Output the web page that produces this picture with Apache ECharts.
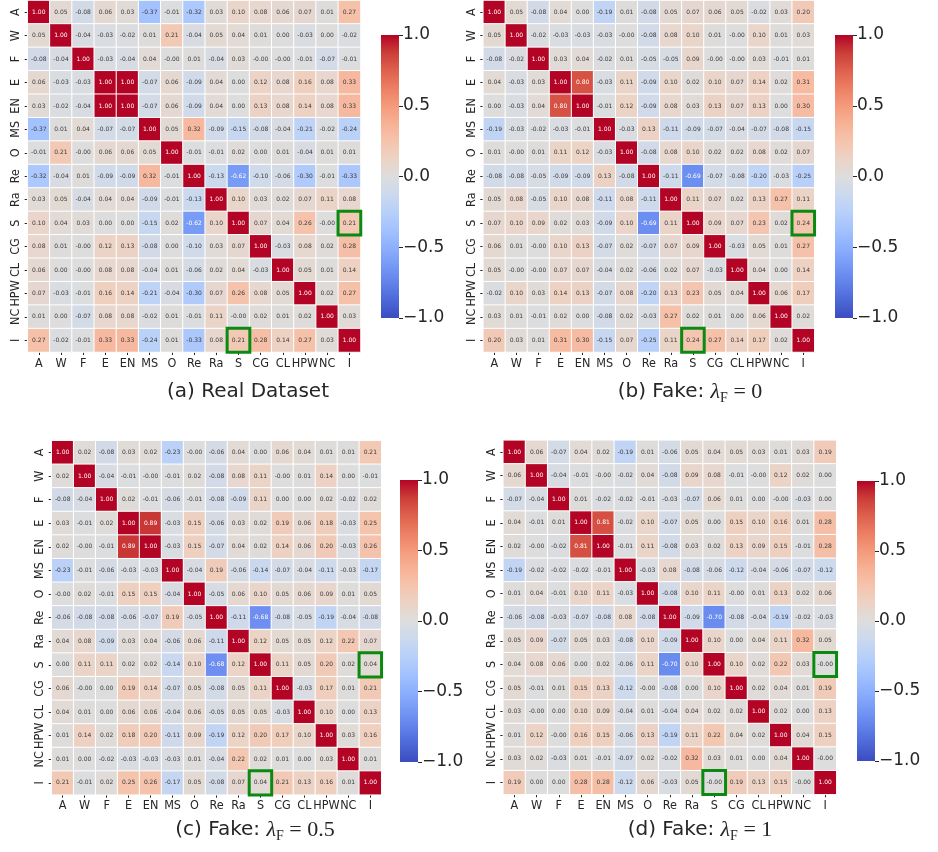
<!DOCTYPE html>
<html>
<head>
<meta charset="utf-8">
<script src="https://cdn.jsdelivr.net/npm/echarts@6/dist/echarts.min.js"></script>
<style>
  html, body { margin: 0; padding: 0; background: #ffffff; }
  #chart { width: 938px; height: 852px; }
</style>
</head>
<body>
<div id="chart"></div>
<script>
// Feature names (rows top-to-bottom, columns left-to-right)
const features = ['A', 'W', 'F', 'E', 'EN', 'MS', 'O', 'Re', 'Ra', 'S', 'CG', 'CL', 'HPW', 'NC', 'I'];

// -0.001 stands for a correlation printed as "-0.00"
const realDataset = [
  [1.00, 0.05, -0.08, 0.06, 0.03, -0.37, -0.01, -0.32, 0.03, 0.10, 0.08, 0.06, 0.07, 0.01, 0.27],
  [0.05, 1.00, -0.04, -0.03, -0.02, 0.01, 0.21, -0.04, 0.05, 0.04, 0.01, 0.00, -0.03, 0.00, -0.02],
  [-0.08, -0.04, 1.00, -0.03, -0.04, 0.04, -0.001, 0.01, -0.04, 0.03, -0.001, -0.001, -0.01, -0.07, -0.01],
  [0.06, -0.03, -0.03, 1.00, 1.00, -0.07, 0.06, -0.09, 0.04, 0.00, 0.12, 0.08, 0.16, 0.08, 0.33],
  [0.03, -0.02, -0.04, 1.00, 1.00, -0.07, 0.06, -0.09, 0.04, 0.00, 0.13, 0.08, 0.14, 0.08, 0.33],
  [-0.37, 0.01, 0.04, -0.07, -0.07, 1.00, 0.05, 0.32, -0.09, -0.15, -0.08, -0.04, -0.21, -0.02, -0.24],
  [-0.01, 0.21, -0.001, 0.06, 0.06, 0.05, 1.00, -0.01, -0.01, 0.02, 0.00, 0.01, -0.04, 0.01, 0.01],
  [-0.32, -0.04, 0.01, -0.09, -0.09, 0.32, -0.01, 1.00, -0.13, -0.62, -0.10, -0.06, -0.30, -0.01, -0.33],
  [0.03, 0.05, -0.04, 0.04, 0.04, -0.09, -0.01, -0.13, 1.00, 0.10, 0.03, 0.02, 0.07, 0.11, 0.08],
  [0.10, 0.04, 0.03, 0.00, 0.00, -0.15, 0.02, -0.62, 0.10, 1.00, 0.07, 0.04, 0.26, -0.001, 0.21],
  [0.08, 0.01, -0.001, 0.12, 0.13, -0.08, 0.00, -0.10, 0.03, 0.07, 1.00, -0.03, 0.08, 0.02, 0.28],
  [0.06, 0.00, -0.001, 0.08, 0.08, -0.04, 0.01, -0.06, 0.02, 0.04, -0.03, 1.00, 0.05, 0.01, 0.14],
  [0.07, -0.03, -0.01, 0.16, 0.14, -0.21, -0.04, -0.30, 0.07, 0.26, 0.08, 0.05, 1.00, 0.02, 0.27],
  [0.01, 0.00, -0.07, 0.08, 0.08, -0.02, 0.01, -0.01, 0.11, -0.001, 0.02, 0.01, 0.02, 1.00, 0.03],
  [0.27, -0.02, -0.01, 0.33, 0.33, -0.24, 0.01, -0.33, 0.08, 0.21, 0.28, 0.14, 0.27, 0.03, 1.00]
];

const fakeLambda0 = [
  [1.00, 0.05, -0.08, 0.04, 0.00, -0.19, 0.01, -0.08, 0.05, 0.07, 0.06, 0.05, -0.02, 0.03, 0.20],
  [0.05, 1.00, -0.02, -0.03, -0.03, -0.03, -0.001, -0.08, 0.08, 0.10, 0.01, -0.001, 0.10, 0.01, 0.03],
  [-0.08, -0.02, 1.00, 0.03, 0.04, -0.02, 0.01, -0.05, -0.05, 0.09, -0.001, -0.001, 0.03, -0.01, 0.01],
  [0.04, -0.03, 0.03, 1.00, 0.80, -0.03, 0.11, -0.09, 0.10, 0.02, 0.10, 0.07, 0.14, 0.02, 0.31],
  [0.00, -0.03, 0.04, 0.80, 1.00, -0.01, 0.12, -0.09, 0.08, 0.03, 0.13, 0.07, 0.13, 0.00, 0.30],
  [-0.19, -0.03, -0.02, -0.03, -0.01, 1.00, -0.03, 0.13, -0.11, -0.09, -0.07, -0.04, -0.07, -0.08, -0.15],
  [0.01, -0.001, 0.01, 0.11, 0.12, -0.03, 1.00, -0.08, 0.08, 0.10, 0.02, 0.02, 0.08, 0.02, 0.07],
  [-0.08, -0.08, -0.05, -0.09, -0.09, 0.13, -0.08, 1.00, -0.11, -0.69, -0.07, -0.08, -0.20, -0.03, -0.25],
  [0.05, 0.08, -0.05, 0.10, 0.08, -0.11, 0.08, -0.11, 1.00, 0.11, 0.07, 0.02, 0.13, 0.27, 0.11],
  [0.07, 0.10, 0.09, 0.02, 0.03, -0.09, 0.10, -0.69, 0.11, 1.00, 0.09, 0.07, 0.23, 0.02, 0.24],
  [0.06, 0.01, -0.001, 0.10, 0.13, -0.07, 0.02, -0.07, 0.07, 0.09, 1.00, -0.03, 0.05, 0.01, 0.27],
  [0.05, -0.001, -0.001, 0.07, 0.07, -0.04, 0.02, -0.06, 0.02, 0.07, -0.03, 1.00, 0.04, 0.00, 0.14],
  [-0.02, 0.10, 0.03, 0.14, 0.13, -0.07, 0.08, -0.20, 0.13, 0.23, 0.05, 0.04, 1.00, 0.06, 0.17],
  [0.03, 0.01, -0.01, 0.02, 0.00, -0.08, 0.02, -0.03, 0.27, 0.02, 0.01, 0.00, 0.06, 1.00, 0.02],
  [0.20, 0.03, 0.01, 0.31, 0.30, -0.15, 0.07, -0.25, 0.11, 0.24, 0.27, 0.14, 0.17, 0.02, 1.00]
];

const fakeLambdaHalf = [
  [1.00, 0.02, -0.08, 0.03, 0.02, -0.23, -0.001, -0.06, 0.04, 0.00, 0.06, 0.04, 0.01, 0.01, 0.21],
  [0.02, 1.00, -0.04, -0.01, -0.001, -0.01, 0.02, -0.08, 0.08, 0.11, -0.001, 0.01, 0.14, 0.00, -0.01],
  [-0.08, -0.04, 1.00, 0.02, -0.01, -0.06, -0.01, -0.08, -0.09, 0.11, 0.00, 0.00, 0.02, -0.02, 0.02],
  [0.03, -0.01, 0.02, 1.00, 0.89, -0.03, 0.15, -0.06, 0.03, 0.02, 0.19, 0.06, 0.18, -0.03, 0.25],
  [0.02, -0.001, -0.01, 0.89, 1.00, -0.03, 0.15, -0.07, 0.04, 0.02, 0.14, 0.06, 0.20, -0.03, 0.26],
  [-0.23, -0.01, -0.06, -0.03, -0.03, 1.00, -0.04, 0.19, -0.06, -0.14, -0.07, -0.04, -0.11, -0.03, -0.17],
  [-0.001, 0.02, -0.01, 0.15, 0.15, -0.04, 1.00, -0.05, 0.06, 0.10, 0.05, 0.06, 0.09, 0.01, 0.05],
  [-0.06, -0.08, -0.08, -0.06, -0.07, 0.19, -0.05, 1.00, -0.11, -0.68, -0.08, -0.05, -0.19, -0.04, -0.08],
  [0.04, 0.08, -0.09, 0.03, 0.04, -0.06, 0.06, -0.11, 1.00, 0.12, 0.05, 0.05, 0.12, 0.22, 0.07],
  [0.00, 0.11, 0.11, 0.02, 0.02, -0.14, 0.10, -0.68, 0.12, 1.00, 0.11, 0.05, 0.20, 0.02, 0.04],
  [0.06, -0.001, 0.00, 0.19, 0.14, -0.07, 0.05, -0.08, 0.05, 0.11, 1.00, -0.03, 0.17, 0.01, 0.21],
  [0.04, 0.01, 0.00, 0.06, 0.06, -0.04, 0.06, -0.05, 0.05, 0.05, -0.03, 1.00, 0.10, 0.00, 0.13],
  [0.01, 0.14, 0.02, 0.18, 0.20, -0.11, 0.09, -0.19, 0.12, 0.20, 0.17, 0.10, 1.00, 0.03, 0.16],
  [0.01, 0.00, -0.02, -0.03, -0.03, -0.03, 0.01, -0.04, 0.22, 0.02, 0.01, 0.00, 0.03, 1.00, 0.01],
  [0.21, -0.01, 0.02, 0.25, 0.26, -0.17, 0.05, -0.08, 0.07, 0.04, 0.21, 0.13, 0.16, 0.01, 1.00]
];

const fakeLambda1 = [
  [1.00, 0.06, -0.07, 0.04, 0.02, -0.19, 0.01, -0.06, 0.05, 0.04, 0.05, 0.03, 0.01, 0.03, 0.19],
  [0.06, 1.00, -0.04, -0.01, -0.001, -0.02, 0.04, -0.08, 0.09, 0.08, -0.01, -0.001, 0.12, 0.02, 0.00],
  [-0.07, -0.04, 1.00, 0.01, -0.02, -0.02, -0.01, -0.03, -0.07, 0.06, 0.01, 0.00, -0.001, -0.03, 0.00],
  [0.04, -0.01, 0.01, 1.00, 0.81, -0.02, 0.10, -0.07, 0.05, 0.00, 0.15, 0.10, 0.16, 0.01, 0.28],
  [0.02, -0.001, -0.02, 0.81, 1.00, -0.01, 0.11, -0.08, 0.03, 0.02, 0.13, 0.09, 0.15, -0.01, 0.28],
  [-0.19, -0.02, -0.02, -0.02, -0.01, 1.00, -0.03, 0.08, -0.08, -0.06, -0.12, -0.04, -0.06, -0.07, -0.12],
  [0.01, 0.04, -0.01, 0.10, 0.11, -0.03, 1.00, -0.08, 0.10, 0.11, -0.001, 0.01, 0.13, 0.02, 0.06],
  [-0.06, -0.08, -0.03, -0.07, -0.08, 0.08, -0.08, 1.00, -0.09, -0.70, -0.08, -0.04, -0.19, -0.02, -0.03],
  [0.05, 0.09, -0.07, 0.05, 0.03, -0.08, 0.10, -0.09, 1.00, 0.10, 0.00, 0.04, 0.11, 0.32, 0.05],
  [0.04, 0.08, 0.06, 0.00, 0.02, -0.06, 0.11, -0.70, 0.10, 1.00, 0.10, 0.02, 0.22, 0.03, -0.001],
  [0.05, -0.01, 0.01, 0.15, 0.13, -0.12, -0.001, -0.08, 0.00, 0.10, 1.00, 0.02, 0.04, 0.01, 0.19],
  [0.03, -0.001, 0.00, 0.10, 0.09, -0.04, 0.01, -0.04, 0.04, 0.02, 0.02, 1.00, 0.02, 0.00, 0.13],
  [0.01, 0.12, -0.001, 0.16, 0.15, -0.06, 0.13, -0.19, 0.11, 0.22, 0.04, 0.02, 1.00, 0.04, 0.15],
  [0.03, 0.02, -0.03, 0.01, -0.01, -0.07, 0.02, -0.02, 0.32, 0.03, 0.01, 0.00, 0.04, 1.00, -0.001],
  [0.19, 0.00, 0.00, 0.28, 0.28, -0.12, 0.06, -0.03, 0.05, -0.001, 0.19, 0.13, 0.15, -0.001, 1.00]
];

// Highlighted feature pairs (row, column)
const highlightedPairs = [['S', 'I'], ['I', 'S']];

// Colour bar tick values
const colorbarTicks = [-1.0, -0.5, 0.0, 0.5, 1.0];

// Diverging "coolwarm" palette, from -1 to +1
const coolwarm = [
  '#3b4cc0', '#4d68d7', '#6282ea', '#779af6', '#8db0fe', '#a3c2fe', '#b8d0f9', '#ccd9ee',
  '#dddddd', '#ecd3c5', '#f5c4ad', '#f7b195', '#f49a7b', '#ec7f63', '#de604d', '#cb3e38', '#b40426'
];

// Panel layout
const panels = [
  { matrix: realDataset, tag: '(a)', title: 'Real Dataset', lambda: null,
    grid: { left: 27.7, top: 0.5, width: 332.8, height: 351.5 },
    bar: { left: 381, top: 35, width: 18, height: 283 }, caption: [248, 392] },
  { matrix: fakeLambda0, tag: '(b)', title: 'Fake: ', lambda: '0',
    grid: { left: 483.3, top: 0.5, width: 331, height: 351.5 },
    bar: { left: 835, top: 35, width: 18, height: 283 }, caption: [690, 392] },
  { matrix: fakeLambdaHalf, tag: '(c)', title: 'Fake: ', lambda: '0.5',
    grid: { left: 51.7, top: 440.7, width: 329.6, height: 354 },
    bar: { left: 400, top: 480, width: 18, height: 282 }, caption: [255, 830] },
  { matrix: fakeLambda1, tag: '(d)', title: 'Fake: ', lambda: '1',
    grid: { left: 503.3, top: 440.3, width: 333, height: 354 },
    bar: { left: 857, top: 481, width: 18, height: 280 }, caption: [700, 830] }
];

const AXIS_FONT = 'DejaVu Sans';
const TICK_FONT = "'DejaVu Sans Condensed', 'DejaVu Sans'";
const MATH_FONT = 'Liberation Serif';
const textColor = '#262626';

const grids = [];
const xAxes = [];
const yAxes = [];
const series = [];
const graphics = [];

function cellFormatter(p) {
  const v = p.value[2];
  const s = v.toFixed(2);
  return Math.abs(v) >= 0.5 ? '{w|' + s + '}' : '{d|' + s + '}';
}

const barGradient = new echarts.graphic.LinearGradient(0, 0, 0, 1,
  coolwarm.slice().reverse().map((c, i, arr) => ({ offset: i / (arr.length - 1), color: c })));

panels.forEach((panel, k) => {
  // heatmap grid
  grids.push(Object.assign({ outerBoundsMode: 'none', containLabel: false }, panel.grid));
  xAxes.push({
    type: 'category', gridIndex: k, data: features, position: 'bottom',
    axisLine: { show: false },
    axisTick: { show: true, alignWithLabel: true, length: 3, lineStyle: { color: textColor, width: 1 } },
    axisLabel: { fontFamily: TICK_FONT, fontSize: 12.5, color: textColor, margin: 5, interval: 0 },
    splitLine: { show: false }
  });
  yAxes.push({
    type: 'category', gridIndex: k, data: features, inverse: true,
    axisLine: { show: false },
    axisTick: { show: true, alignWithLabel: true, length: 3, lineStyle: { color: textColor, width: 1 } },
    axisLabel: { fontFamily: TICK_FONT, fontSize: 12.5, color: textColor, margin: 5, rotate: 90, interval: 0 },
    splitLine: { show: false }
  });

  const cells = [];
  panel.matrix.forEach((row, r) => row.forEach((v, c) => cells.push([c, r, v])));
  series.push({
    type: 'heatmap', xAxisIndex: k, yAxisIndex: k, data: cells,
    itemStyle: { borderColor: '#ffffff', borderWidth: 1 },
    label: {
      show: true, formatter: cellFormatter,
      rich: {
        w: { color: '#ffffff', fontSize: 6, fontFamily: AXIS_FONT },
        d: { color: '#3a3a3a', fontSize: 6, fontFamily: AXIS_FONT }
      }
    },
    emphasis: { disabled: true },
    silent: true
  });
});

// highlight boxes drawn above the cells
panels.forEach((panel, k) => {
  series.push({
    type: 'heatmap', xAxisIndex: k, yAxisIndex: k,
    data: highlightedPairs.map(([r, c]) => [features.indexOf(c), features.indexOf(r), 0]),
    itemStyle: { color: 'rgba(0,0,0,0)', borderColor: '#0b8a12', borderWidth: 3 },
    label: { show: false }, z: 5, silent: true
  });
});

// colour bars
panels.forEach((panel) => {
  const g = grids.length;
  grids.push(Object.assign({ outerBoundsMode: 'none', containLabel: false, show: true,
    backgroundColor: barGradient, borderWidth: 0 }, panel.bar));
  xAxes.push({ type: 'category', gridIndex: g, data: [''], show: false });
  yAxes.push({
    type: 'value', gridIndex: g, position: 'right', min: colorbarTicks[0],
    max: colorbarTicks[colorbarTicks.length - 1], interval: colorbarTicks[1] - colorbarTicks[0],
    axisLine: { show: false },
    axisTick: { show: true, length: 4, lineStyle: { color: textColor, width: 1 } },
    axisLabel: { fontFamily: AXIS_FONT, fontSize: 17, color: textColor, margin: 4,
      formatter: v => v.toFixed(1).replace('-', '\u2212') },
    splitLine: { show: false }
  });
});

// captions
panels.forEach((panel) => {
  let text = '{s|' + panel.tag + ' ' + panel.title + '}';
  if (panel.lambda !== null) {
    text += '{it|\u03bb}{sub|F}{m| = ' + panel.lambda + '}';
  }
  graphics.push({
    type: 'text', x: panel.caption[0], y: panel.caption[1],
    style: {
      text: text, align: 'center', verticalAlign: 'middle', fill: textColor,
      rich: {
        s: { fontFamily: AXIS_FONT, fontSize: 20, color: textColor, lineHeight: 26, verticalAlign: 'middle' },
        it: { fontFamily: MATH_FONT, fontSize: 22, fontStyle: 'italic', color: textColor, lineHeight: 26, verticalAlign: 'middle' },
        m: { fontFamily: MATH_FONT, fontSize: 22, color: textColor, lineHeight: 26, verticalAlign: 'middle' },
        sub: { fontFamily: MATH_FONT, fontSize: 14, color: textColor, lineHeight: 14, verticalAlign: 'bottom' }
      }
    }
  });
});

const chart = echarts.init(document.getElementById('chart'), null, { renderer: 'canvas' });
chart.setOption({
  backgroundColor: '#ffffff',
  animation: false,
  grid: grids,
  xAxis: xAxes,
  yAxis: yAxes,
  visualMap: {
    type: 'continuous', show: false, min: -1, max: 1, dimension: 2,
    seriesIndex: [0, 1, 2, 3], inRange: { color: coolwarm }
  },
  series: series,
  graphic: graphics
});
</script>
</body>
</html>
